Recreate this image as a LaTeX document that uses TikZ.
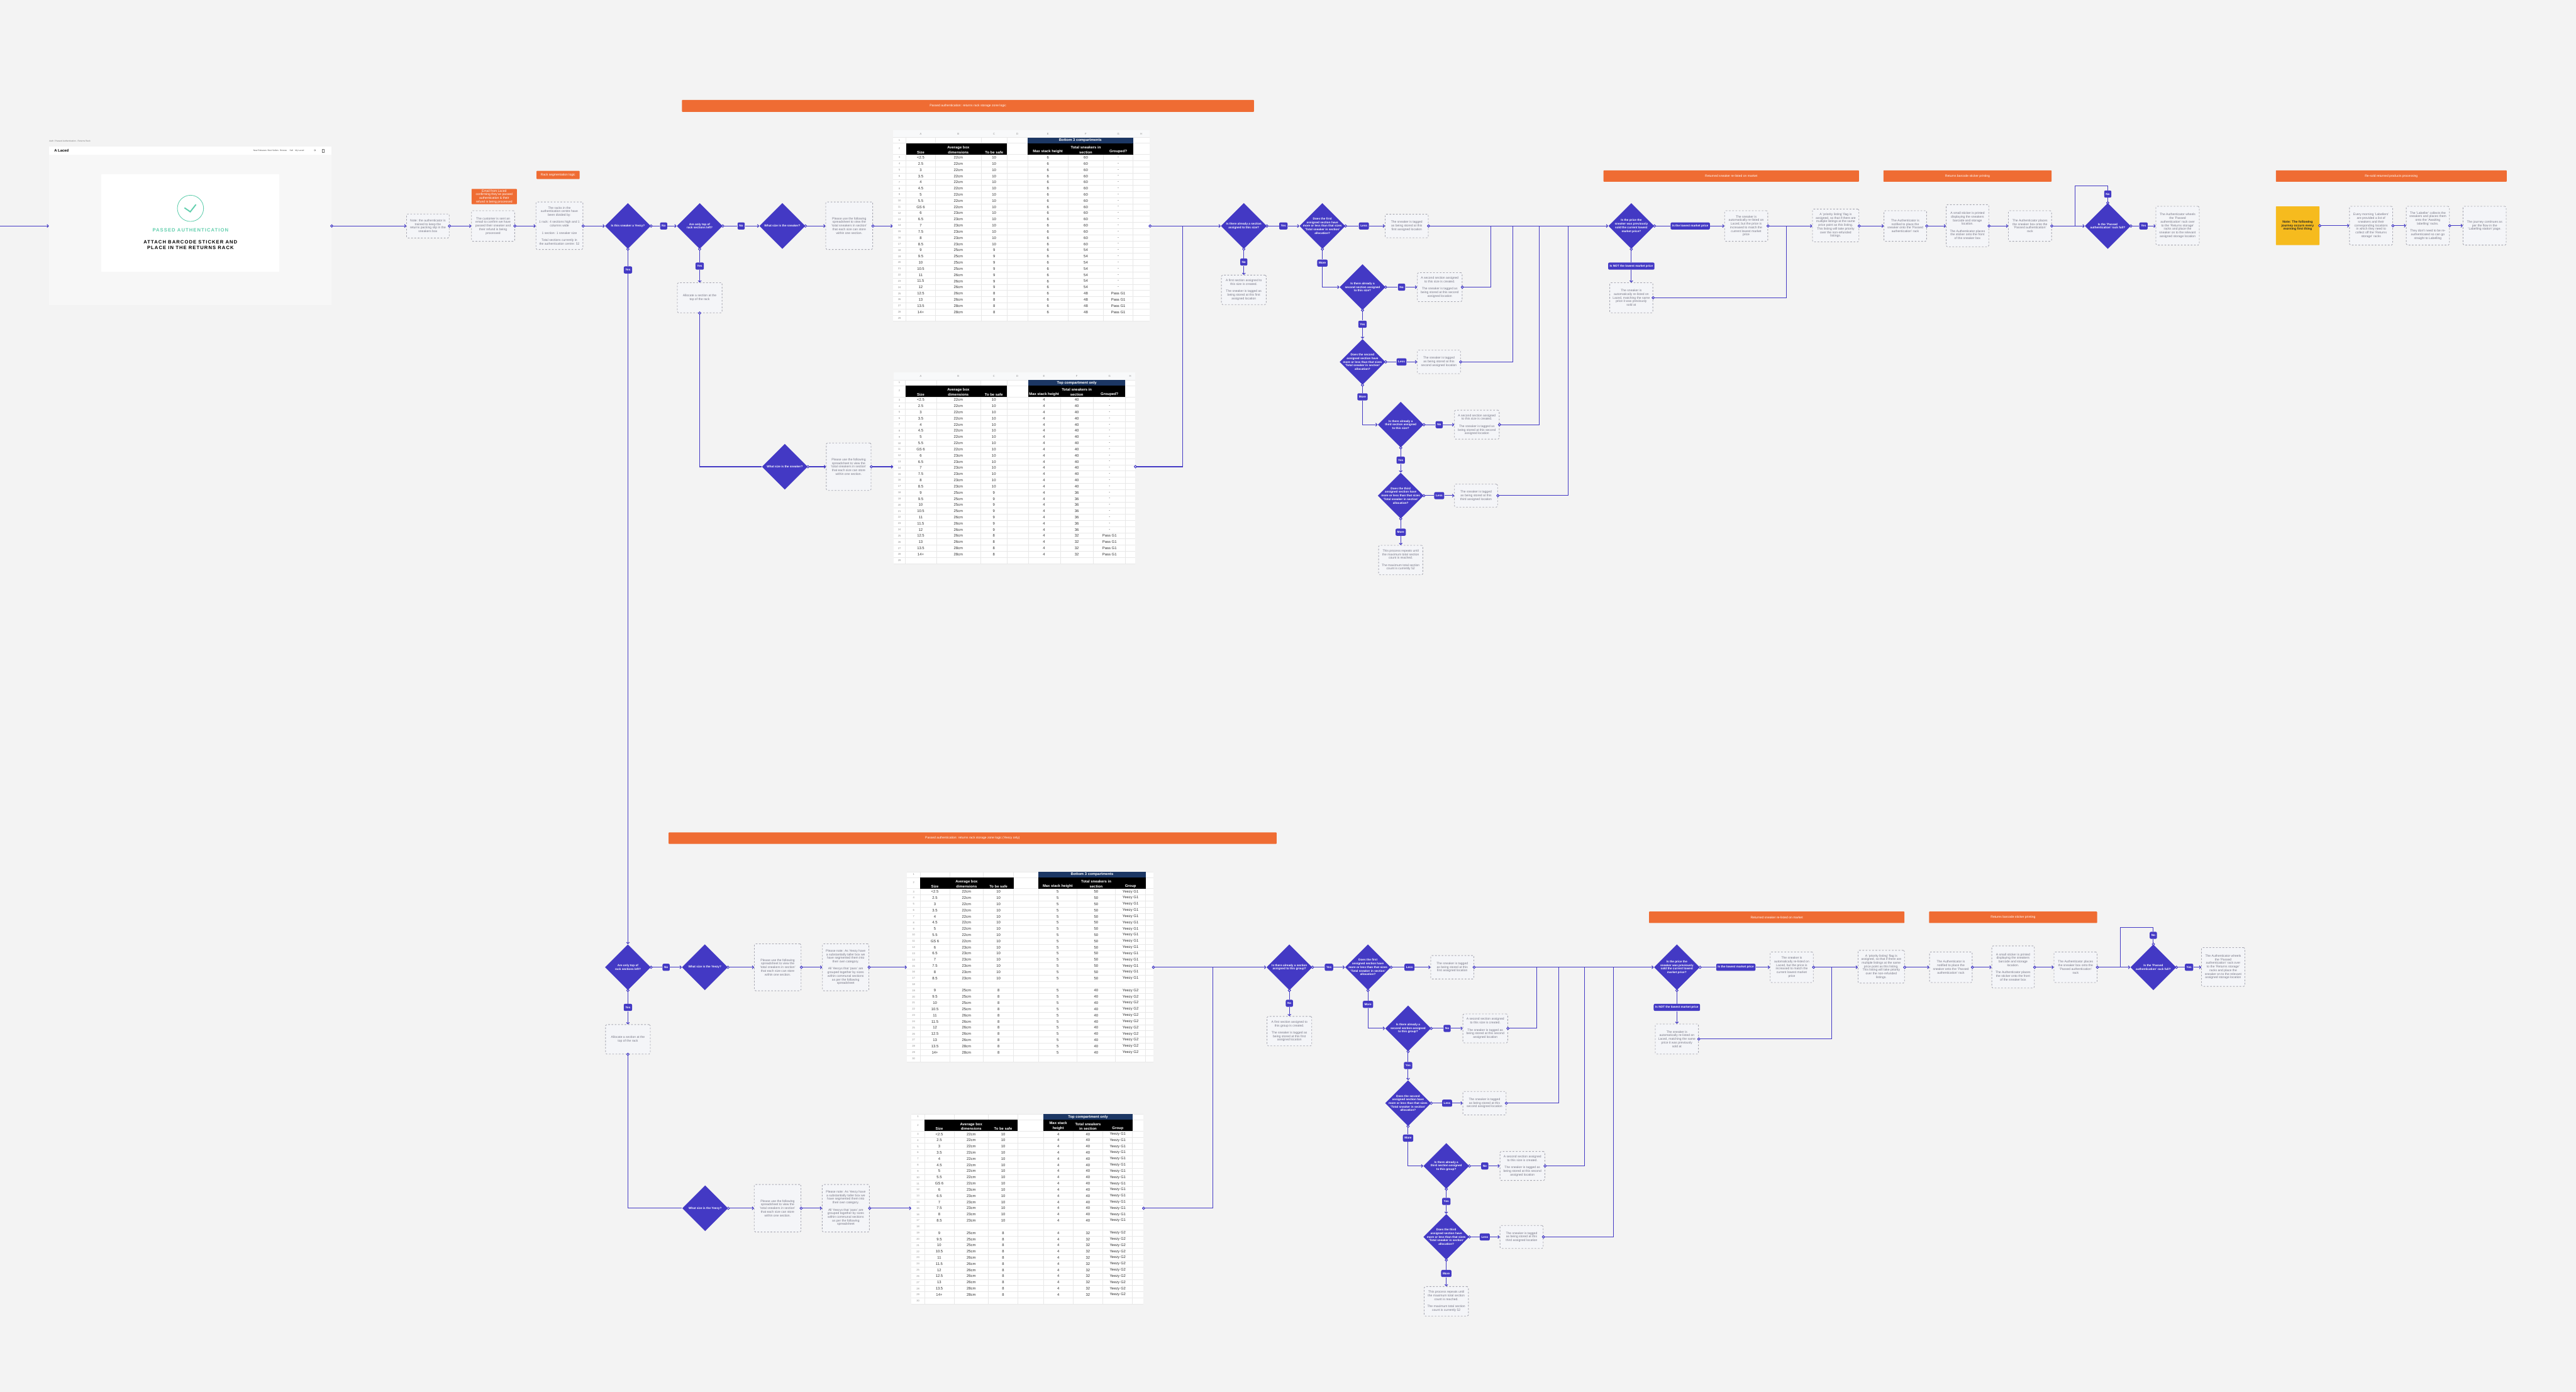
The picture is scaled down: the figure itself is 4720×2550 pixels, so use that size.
\documentclass[tikz,border=0pt]{standalone}
\usepackage{fontspec}
\setmainfont{Liberation Sans}
\newfontfamily\screenfont[LetterSpace=14]{Liberation Sans}
\usetikzlibrary{arrows.meta,shapes.geometric}

\definecolor{pagebg}{HTML}{F3F3F3}
\definecolor{flowblue}{HTML}{4339C4}
\definecolor{notefill}{HTML}{F4F5F8}
\definecolor{notedash}{HTML}{A6A6B0}
\definecolor{notetext}{HTML}{787887}
\definecolor{bandorange}{HTML}{EF6C33}
\definecolor{noteyellow}{HTML}{F6BB1E}
\definecolor{sheetgrid}{HTML}{E8E8E8}
\definecolor{sheetband}{HTML}{F8F9FA}
\definecolor{sheetnavy}{HTML}{1C3764}
\definecolor{passgreen}{HTML}{62CFAE}

\newcommand{\boxfont}{\fontsize{2.9}{3.3}\selectfont}
\newcommand{\askfont}{\fontsize{2.7}{3.3}\selectfont\bfseries}
\newcommand{\cellfont}{\fontsize{3.4}{4.35}\selectfont}
\newcommand{\gap}{\\[3.3pt]}

\tikzset{
  >={Straight Barb[length=1.3pt,width=2.8pt]},
  sizebox/.style 2 args={minimum width=#1*0.5pt,minimum height=#2*0.5pt},
  flowline/.style={draw=flowblue,line width=0.6pt},
  outlink/.style={flowline,{Circle[length=2.8pt,fill=white]}->,shorten <=-1.4pt},
  outlead/.style={flowline,{Circle[length=2.8pt,fill=white]}-,shorten <=-1.4pt},
  feed/.style={flowline,->},
  plainlink/.style={flowline},
  notebox/.style={draw=notedash,fill=notefill,dash pattern=on 1.5pt off 1.5pt,line width=0.5pt,
    rounded corners=1pt,inner sep=0pt,align=center,text=notetext,font=\boxfont},
  decide/.style={diamond,fill=flowblue,sizebox={84}{84},inner sep=0pt},
  asks/.style={text=white,font=\askfont,align=center,inner sep=0pt},
  badge/.style={fill=flowblue,rounded corners=1.2pt,text=white,font=\askfont,
    minimum height=6.5pt,inner xsep=1.5pt,inner ysep=0pt},
  band/.style={fill=bandorange,rounded corners=0.5pt,text=white,font=\boxfont,align=center,inner sep=0pt},
  sheet/.style={fill=white,inner sep=0pt},
  cell/.style={inner sep=0pt,font=\cellfont,text=black!80},
  headcell/.style={inner sep=0.6pt,anchor=south,font=\cellfont\bfseries,text=white,align=center},
  rowno/.style={inner sep=0pt,font=\fontsize{2.4}{3}\selectfont,text=black!45},
  sheetline/.style={draw=sheetgrid,line width=0.4pt},
  navtext/.style={inner sep=0pt,font=\fontsize{1.9}{2.4}\selectfont,text=black!70},
}

\def\plainrows{<2.5/22cm/10,2.5/22cm/10,3/22cm/10,3.5/22cm/10,4/22cm/10,4.5/22cm/10,5/22cm/10,5.5/22cm/10,GS 6/22cm/10,6/23cm/10,6.5/23cm/10,7/23cm/10,7.5/23cm/10,8/23cm/10,8.5/23cm/10,9/25cm/9,9.5/25cm/9,10/25cm/9,10.5/25cm/9,11/26cm/9,11.5/26cm/9,12/26cm/9,12.5/26cm/8,13/26cm/8,13.5/28cm/8,14+/28cm/8}
\def\yeezyrows{<2.5/22cm/10,2.5/22cm/10,3/22cm/10,3.5/22cm/10,4/22cm/10,4.5/22cm/10,5/22cm/10,5.5/22cm/10,GS 6/22cm/10,6/23cm/10,6.5/23cm/10,7/23cm/10,7.5/23cm/10,8/23cm/10,8.5/23cm/10,x/x/0,9/25cm/8,9.5/25cm/8,10/25cm/8,10.5/25cm/8,11/26cm/8,11.5/26cm/8,12/26cm/8,12.5/26cm/8,13/26cm/8,13.5/28cm/8,14+/28cm/8}
\newcommand{\grpplain}{\ifnum\safe>8 -\else Pass G1\fi}
\newcommand{\grpyeezy}{\ifnum\safe>8 Yeezy G1\else Yeezy G2\fi}

\newcommand{\setedges}[4]{\def\blackA{#1}\def\blackB{#2}\def\blackC{#3}\def\blackD{#4}}
\newcommand{\setcols}[6]{\def\colA{#1}\def\colB{#2}\def\colC{#3}\def\colE{#4}\def\colF{#5}\def\colG{#6}}

% grid: name, left, right, top of row 1, column edges, last row
\newcommand{\sheetframe}[6]{
  \pgfmathsetmacro\sheetbot{#4+31+(#6-2)*11.32}
  \foreach \gx in {#5} \draw[sheetline] (\gx,#4) -- (\gx,\sheetbot);
  \draw[sheetline] (#2,#4) -- (#3,#4);
  \draw[sheetline] (#2,#4+10.5) -- (#3,#4+10.5);
  \draw[sheetline] (#2,#4+31) -- (#3,#4+31);
  \foreach \rw in {3,...,#6} {
    \draw[sheetline] (#2,#4+31+\rw*11.32-2*11.32) -- (#3,#4+31+\rw*11.32-2*11.32);
    \node[rowno] (#1row\rw) at ({(#2+\blackA)/2},#4+31+\rw*11.32-2.5*11.32) {\rw};
  }
  \node[rowno] (#1row1) at ({(#2+\blackA)/2},#4+5) {1};
  \node[rowno] (#1row2) at ({(#2+\blackA)/2},#4+20) {2};
}
% name, top of row 1, title, the three right headers
\newcommand{\sheethead}[6]{
  \fill[black] (\blackA,#2+10.5) rectangle (\blackB,#2+31);
  \fill[black] (\blackC,#2+10.5) rectangle (\blackD,#2+31);
  \fill[sheetnavy] (\blackC,#2) rectangle (\blackD,#2+10.5);
  \node[inner sep=0pt,font=\cellfont\bfseries,text=white] (#1title) at ({(\blackC+\blackD)/2},#2+5.2) {#3};
  \node[headcell] (#1hsize) at (\colA,#2+31) {Size};
  \node[headcell] (#1hbox) at (\colB,#2+31) {Average box\\dimensions};
  \node[headcell] (#1hsafe) at (\colC,#2+31) {To be safe};
  \node[headcell] (#1hmax) at (\colE,#2+31) {#4};
  \node[headcell] (#1htotal) at (\colF,#2+31) {#5};
  \node[headcell] (#1hgroup) at (\colG,#2+31) {#6};
}
% name, top of row 1, rows, stack height, group text
\newcommand{\sheetcells}[5]{
  \foreach \sz/\cm/\safe [count=\rw from 3] in #3 {
    \ifnum\safe>0
      \pgfmathtruncatemacro\tot{\safe*#4}
      \pgfmathsetmacro\rowy{#2+31+(\rw-2.5)*11.32}
      \node[cell] (#1a\rw) at (\colA,\rowy) {\sz};
      \node[cell] (#1b\rw) at (\colB,\rowy) {\cm};
      \node[cell] (#1c\rw) at (\colC,\rowy) {\safe};
      \node[cell] (#1e\rw) at (\colE,\rowy) {#4};
      \node[cell] (#1f\rw) at (\colF,\rowy) {\tot};
      \node[cell] (#1g\rw) at (\colG,\rowy) {#5};
    \fi
  }
}

% the run from the section question to the end of the row; #1 name suffix, #2 size or group
\newcommand{\storeflow}[2]{
  \node[band,sizebox={468}{21}] (headrelist#1) at (3172,322.5) {Returned sneaker re-listed on market};
  \node[band,sizebox={308}{21}] (headbarcode#1) at (3605,322.5) {Returns barcode sticker printing};

  \node[decide,label={[asks]center:{Is there already a section\\assigned to this #2?}}] (qsection#1) at (2279,414) {};
  \node[decide,label={[asks]center:{Does the first\\assigned section have\\more or less than that sizes\\'Total sneaker in section'\\allocation?}}] (qfirst#1) at (2423,414) {};
  \node[notebox,sizebox={79}{43}] (tagfirst#1) at (2577.5,414) {The sneaker is tagged\\as being stored at this\\first assigned location};
  \node[notebox,sizebox={82}{54}] (newfirst#1) at (2279,531) {A first section assigned to\\this #2 is created.\gap The sneaker is tagged as\\being stored at this first\\assigned location};
  \node[badge] (yes1#1) at (2351.5,414) {Yes};
  \node[badge] (less1#1) at (2499,414) {Less};
  \node[badge] (no1#1) at (2279,480) {No};
  \node[badge] (more1#1) at (2423,482) {More};

  \node[decide,label={[asks]center:{Is there already a\\second section assigned\\to this #2?}}] (qsecond#1) at (2496.5,526) {};
  \node[notebox,sizebox={82}{53}] (newsecond#1) at (2638,526) {A second section assigned\\to this size is created.\gap The sneaker is tagged as\\being stored at this second\\assigned location};
  \node[badge] (no2#1) at (2568,526) {No};
  \node[badge] (yes2#1) at (2496.5,594) {Yes};
  \node[decide,label={[asks]center:{Does the second\\assigned section have\\more or less than that sizes\\'Total sneaker in section'\\allocation?}}] (qsecless#1) at (2496.5,663) {};
  \node[notebox,sizebox={79}{43}] (tagsecond#1) at (2636.5,663) {The sneaker is tagged\\as being stored at this\\second assigned location};
  \node[badge] (less2#1) at (2568,663) {Less};
  \node[badge] (more2#1) at (2496.5,727) {More};

  \node[decide,label={[asks]center:{Is there already a\\third section assigned\\to this #2?}}] (qthird#1) at (2566.5,778) {};
  \node[notebox,sizebox={82}{53}] (newthird#1) at (2706,778) {A second section assigned\\to this size is created.\gap The sneaker is tagged as\\being stored at this second\\assigned location};
  \node[badge] (no3#1) at (2637,778) {No};
  \node[badge] (yes3#1) at (2566.5,843) {Yes};
  \node[decide,label={[asks]center:{Does the third\\assigned section have\\more or less than that sizes\\'Total sneaker in section'\\allocation?}}] (qthirdless#1) at (2566.5,908) {};
  \node[notebox,sizebox={79}{42}] (tagthird#1) at (2704.5,908) {The sneaker is tagged\\as being stored at this\\third assigned location};
  \node[badge] (less3#1) at (2637,908) {Less};
  \node[badge] (more3#1) at (2566.5,975) {More};
  \node[notebox,sizebox={81}{54}] (repeat#1) at (2566.5,1026) {This process repeats until\\the maximum total section\\count is reached.\gap The maximum total section\\count is currently 52};

  \coordinate (joinA#1) at (2732,414);
  \coordinate (joinB#1) at (2772,414);
  \coordinate (joinC#1) at (2820,414);
  \coordinate (joinD#1) at (2873,414);
  \coordinate (joinlist#1) at (3273,414);
  \coordinate (joinfull#1) at (3802,414);
  \coordinate (loopfull#1) at (3802,341);

  \node[decide,label={[asks]center:{Is the price the\\sneaker was previously\\sold the current lowest\\market price?}}] (qprice#1) at (2989,414) {};
  \node[badge] (lowest#1) at (3097,414) {Is the lowest market price};
  \node[badge] (notlowest#1) at (2989,487.5) {Is NOT the lowest market price};
  \node[notebox,sizebox={79}{56}] (raised#1) at (3199.5,414) {The sneaker is\\automatically re-listed on\\Laced, but the price is\\increased to match the\\current lowest market\\price};
  \node[notebox,sizebox={79}{55}] (matched#1) at (2989,545.5) {The sneaker is\\automatically re-listed on\\Laced, matching the same\\price it was previously\\sold at};
  \node[notebox,sizebox={85}{60}] (priority#1) at (3363.5,413) {A 'priority listing' flag is\\assigned, so that if there are\\multiple listings at the same\\price point as this listing.\\This listing will take priority\\over the non-refunded\\listings.};
  \node[notebox,sizebox={78}{56}] (notified#1) at (3491,414) {The Authenticator is\\notified to place the\\sneaker onto the 'Passed\\authentication' rack};
  \node[notebox,sizebox={78}{77}] (sticker#1) at (3605,413.5) {A small sticker is printed\\displaying the sneakers\\barcode and storage\\location.\gap The Authenticator places\\the sticker onto the front\\of the sneaker box};
  \node[notebox,sizebox={79}{56}] (placed#1) at (3719.5,414) {The Authenticator places\\the sneaker box onto the\\'Passed authentication'\\rack};
  \node[decide,label={[asks]center:{Is the 'Passed\\authentication' rack full?}}] (qfull#1) at (3862,414) {};
  \node[badge] (nofull#1) at (3862,355.5) {No};
  \node[badge] (yesfull#1) at (3927.5,414) {Yes};
  \node[notebox,sizebox={79.5}{71}] (wheels#1) at (3990,413.5) {The Authenticator wheels\\the 'Passed\\authentication' rack over\\to the 'Returns storage'\\racks and place the\\sneaker on to the relevant\\assigned storage location};

  \draw[outlead] (qsection#1.east) -- (yes1#1.west);
  \draw[feed] (yes1#1.east) -- (qfirst#1.west);
  \draw[outlead] (qfirst#1.east) -- (less1#1.west);
  \draw[feed] (less1#1.east) -- (tagfirst#1.west);
  \draw[outlead] (qsection#1.south) -- (no1#1.north);
  \draw[feed] (no1#1.south) -- (newfirst#1.north);
  \draw[outlead] (qfirst#1.south) -- (more1#1.north);
  \draw[feed] (more1#1.south) |- (qsecond#1.west);
  \draw[outlead] (qsecond#1.east) -- (no2#1.west);
  \draw[feed] (no2#1.east) -- (newsecond#1.west);
  \draw[outlead] (qsecond#1.south) -- (yes2#1.north);
  \draw[feed] (yes2#1.south) -- (qsecless#1.north);
  \draw[outlead] (qsecless#1.east) -- (less2#1.west);
  \draw[feed] (less2#1.east) -- (tagsecond#1.west);
  \draw[outlead] (qsecless#1.south) -- (more2#1.north);
  \draw[feed] (more2#1.south) |- (qthird#1.west);
  \draw[outlead] (qthird#1.east) -- (no3#1.west);
  \draw[feed] (no3#1.east) -- (newthird#1.west);
  \draw[outlead] (qthird#1.south) -- (yes3#1.north);
  \draw[feed] (yes3#1.south) -- (qthirdless#1.north);
  \draw[outlead] (qthirdless#1.east) -- (less3#1.west);
  \draw[feed] (less3#1.east) -- (tagthird#1.west);
  \draw[outlead] (qthirdless#1.south) -- (more3#1.north);
  \draw[feed] (more3#1.south) -- (repeat#1.north);
  \draw[outlead] (newsecond#1.east) -| (joinA#1);
  \draw[outlead] (tagsecond#1.east) -| (joinB#1);
  \draw[outlead] (newthird#1.east) -| (joinC#1);
  \draw[outlead] (tagthird#1.east) -| (joinD#1);
  \draw[outlink] (tagfirst#1.east) -- (qprice#1.west);
  \draw[outlead] (qprice#1.east) -- (lowest#1.west);
  \draw[feed] (lowest#1.east) -- (raised#1.west);
  \draw[outlead] (qprice#1.south) -- (notlowest#1.north);
  \draw[feed] (notlowest#1.south) -- (matched#1.north);
  \draw[outlink] (raised#1.east) -- (priority#1.west |- raised#1.east);
  \draw[outlead] (matched#1.east) -| (joinlist#1);
  \draw[outlink] (priority#1.east |- raised#1.east) -- (notified#1.west);
  \draw[outlink] (notified#1.east) -- (sticker#1.west |- notified#1.east);
  \draw[outlink] (sticker#1.east |- notified#1.east) -- (placed#1.west);
  \draw[outlink] (placed#1.east) -- (qfull#1.west);
  \draw[outlead] (qfull#1.north) -- (nofull#1.south);
  \draw[plainlink] (nofull#1.north) |- (loopfull#1) -- (joinfull#1);
  \draw[outlead] (qfull#1.east) -- (yesfull#1.west);
  \draw[feed] (yesfull#1.east) -- (wheels#1.west |- yesfull#1.east);
}

\begin{document}
\begin{tikzpicture}[x=0.5pt,y=-0.5pt]
  \fill[pagebg] (0,0) rectangle (4720,2550);
  \useasboundingbox (0,0) rectangle (4720,2550);

  % screen
  \node[anchor=west,inner sep=0pt,font=\fontsize{1.9}{2.4}\selectfont,text=black!55] (screenname) at (90,259) {Auth / Passed Authentication - Returns Rack};
  \node[fill=black!3,inner sep=0pt,sizebox={517.5}{291}] (screen) at (348.75,413.5) {};
  \fill[white] (90,268) rectangle (607.5,283);
  \fill[white] (186,319) rectangle (512,498);
  \node[anchor=west,inner sep=0pt,font=\fontsize{3.4}{4}\selectfont\bfseries] (logo) at (99,275.7) {A Laced};
  \node[navtext] (navnew) at (476.5,275.7) {New Releases};
  \node[navtext] (navbest) at (500.5,275.7) {Best Sellers};
  \node[navtext] (navbrowse) at (519.5,275.7) {Browse};
  \node[navtext] (navsell) at (534,275.7) {Sell};
  \node[navtext] (navmine) at (549,275.7) {My Laced};
  \draw[black!55,line width=0.2pt] (577,275.2) circle (1.5);
  \draw[black!55,line width=0.2pt] (590.5,273) rectangle (593.5,279);
  \draw[passgreen,line width=0.5pt] (349,381.7) circle (24);
  \draw[passgreen,line width=1.1pt] (338,380.7) -- (348.6,388) -- (359,374.7);
  \node[inner sep=0pt,text=passgreen,font=\fontsize{4.4}{5}\selectfont\screenfont\bfseries] (passed) at (349,422) {PASSED AUTHENTICATION};
  \node[inner sep=0pt,align=center,font=\fontsize{4.4}{5.5}\selectfont\screenfont\bfseries] (attach) at (349,448.5) {ATTACH BARCODE STICKER AND\\PLACE IN THE RETURNS RACK};

  \coordinate (entry) at (0,414);
  \draw[feed] (entry) -- (screen.west |- entry);

  \node[notebox,sizebox={78}{44}] (tonote) at (784,414) {Note: the authenticator is\\trained to keep the\\returns packing slip in the\\sneakers box};
  \node[notebox,sizebox={79}{56}] (mailed) at (903.5,414) {The customer is sent an\\email to confirm we have\\passed their sneaker and\\their refund is being\\processed};
  \node[notebox,sizebox={86}{87}] (racks) at (1025,413.5) {The racks in the\\authentication centre have\\been divided by:\gap 1 rack: 4 sections high and 1\\columns wide\gap 1 section: 1 sneaker size\gap Total sections currently in\\the authentication centre: 52};
  \node[band,sizebox={83}{28}] (mailtag) at (905.5,360) {Email from Laced\\confirming they've passed\\authentication \& their\\refund is being processed};
  \node[band,sizebox={79}{15}] (racktag) at (1022.5,320.5) {Rack segmentation logic};

  \node[band,sizebox={1048}{22}] (headlogic) at (1773.5,194) {Passed authentication: returns rack storage zone logic};
  \node[decide,label={[asks]center:{Is this sneaker a Yeezy?}}] (qyeezy) at (1150.5,414) {};
  \node[badge] (yeezyno) at (1216,414) {No};
  \node[badge] (yeezyyes) at (1150.5,494.5) {Yes};
  \node[decide,label={[asks]center:{Are only top of\\rack sections left?}}] (qtop) at (1282,414) {};
  \node[badge] (topno) at (1358,414) {No};
  \node[badge] (topyes) at (1282,487.5) {Yes};
  \node[notebox,sizebox={82}{55}] (alloc) at (1282,545.5) {Allocate a section at the\\top of the rack};
  \node[decide,label={[asks]center:{What size is the sneaker?}}] (qsize) at (1433.5,414) {};
  \node[notebox,sizebox={86}{87}] (please) at (1556,413.5) {Please use the following\\spreadsheet to view the\\'total sneakers in section'\\that each size can store\\within one section.};
  \node[decide,label={[asks]center:{What size is the sneaker?}}] (qsizetop) at (1438,855) {};
  \node[notebox,sizebox={82}{87}] (pleasetop) at (1555,855) {Please use the following\\spreadsheet to view the\\'total sneakers in section'\\that each size can store\\within one section.};

  % sheets
  \node[sheet,sizebox={471}{351}] (sheetA) at (1871.5,413.5) {};
  \fill[sheetband] (1636,238) rectangle (2107,252);
  \setedges{1660}{1845}{1883}{2076}
  \setcols{1687}{1756}{1821.5}{1920}{1989.5}{2049}
  \sheetframe{sheetA}{1636}{2107}{252}{1660,1714,1798,1845,1883,1957,2022,2076}{29}
  \foreach \letter/\gx in {A/1687,B/1756,C/1821.5,D/1864,E/1920,F/1989.5,G/2049,H/2091}
    \node[rowno] (sheetAcol\letter) at (\gx,245) {\letter};
  \sheethead{sheetA}{252}{Bottom 3 compartments}{Max stack height}{Total sneakers in\\section}{Grouped?}
  \sheetcells{sheetA}{252}{\plainrows}{6}{\grpplain}

  \node[sheet,sizebox={443}{351}] (sheetB) at (1858.5,857.5) {};
  \fill[sheetband] (1637,682) rectangle (2080,696);
  \setedges{1659}{1845}{1884}{2062}
  \setcols{1687}{1756}{1821}{1913}{1973}{2033}
  \sheetframe{sheetB}{1637}{2080}{696}{1659,1716,1797,1845,1884,1943,2003,2062}{29}
  \foreach \letter/\gx in {A/1687,B/1756,C/1821,D/1864,E/1913,F/1973,G/2033,H/2071}
    \node[rowno] (sheetBcol\letter) at (\gx,689) {\letter};
  \sheethead{sheetB}{696}{Top compartment only}{Max stack height}{Total sneakers in\\section}{Grouped?}
  \sheetcells{sheetB}{696}{\plainrows}{4}{\grpplain}

  \draw[outlead] (qyeezy.east) -- (yeezyno.west);
  \draw[feed] (yeezyno.east) -- (qtop.west);
  \draw[outlead] (qtop.east) -- (topno.west);
  \draw[feed] (topno.east) -- (qsize.west);
  \draw[outlink] (qsize.east) -- (please.west |- qsize.east);
  \draw[outlink] (please.east |- qsize.east) -- (sheetA.west |- qsize.east);
  \draw[outlead] (qtop.south) -- (topyes.north);
  \draw[feed] (topyes.south) -- (alloc.north);
  \draw[outlead] (alloc.south) |- (qsizetop.west);
  \draw[outlink] (qsizetop.east) -- (pleasetop.west);
  \draw[outlink] (pleasetop.east) -- (sheetB.west |- qsizetop.east);
  \draw[outlink] (tonote.east) -- (mailed.west);
  \draw[outlink] (mailed.east) -- (racks.west |- mailed.east);
  \draw[outlink] (screen.east |- entry) -- (tonote.west);
  \draw[outlink] (racks.east |- mailed.east) -- (qyeezy.west);

  \storeflow{}{size}
  \coordinate (mergetop) at (2167,414);
  \draw[outlink] (sheetA.east |- qsize.east) -- (qsection.west);
  \draw[outlead] (sheetB.east |- qsizetop.east) -| (mergetop);

  % yeezy
  \node[band,sizebox={1114}{21}] (headyeezy) at (1782,1535.5) {Passed authentication: returns rack storage zone logic (Yeezy only)};
  \node[decide,label={[asks]center:{Are only top of\\rack sections left?}}] (qtopY) at (1150.5,1772) {};
  \node[badge] (topnoY) at (1220.5,1772) {No};
  \node[badge] (topyesY) at (1150.5,1845.5) {Yes};
  \node[notebox,sizebox={82}{54}] (allocY) at (1150.5,1904) {Allocate a section at the\\top of the rack};
  \node[decide,label={[asks]center:{What size is the Yeezy?}}] (qsizeY) at (1291.5,1772) {};
  \node[notebox,sizebox={85.5}{86}] (pleaseY) at (1425,1772) {Please use the following\\spreadsheet to view the\\'total sneakers in section'\\that each size can store\\within one section.};
  \node[notebox,sizebox={85}{86}] (noteY) at (1549.5,1772) {Please note: As Yeezy have\\a substantially taller box we\\have segmented them into\\their own category.\gap All Yeezys that 'pass' are\\grouped together by sizes\\within communal sections\\as per the following\\spreadsheet};
  \node[decide,label={[asks]center:{What size is the Yeezy?}}] (qsizeZ) at (1292,2213.5) {};
  \node[notebox,sizebox={85.5}{87}] (pleaseZ) at (1424.75,2213.5) {Please use the following\\spreadsheet to view the\\'total sneakers in section'\\that each size can store\\within one section.};
  \node[notebox,sizebox={86.5}{87}] (noteZ) at (1549.75,2213.5) {Please note: As Yeezy have\\a substantially taller box we\\have segmented them into\\their own category.\gap All Yeezys that 'pass' are\\grouped together by sizes\\within communal sections\\as per the following\\spreadsheet};

  \node[sheet,sizebox={451}{348}] (sheetC) at (1887.5,1771) {};
  \setedges{1686}{1857}{1903}{2099}
  \setcols{1713}{1771}{1829.5}{1938}{2008.5}{2071.5}
  \sheetframe{sheetC}{1662}{2113}{1597}{1686,1740,1802,1857,1903,1973,2044,2099}{30}
  \sheethead{sheetC}{1597}{Bottom 3 compartments}{Max stack height}{Total sneakers in\\section}{Group}
  \sheetcells{sheetC}{1597}{\yeezyrows}{5}{\grpyeezy}

  \node[sheet,sizebox={425}{348}] (sheetD) at (1882.5,2215) {};
  \setedges{1694}{1865}{1912}{2075}
  \setcols{1721}{1779.5}{1838}{1939}{1993.5}{2048}
  \sheetframe{sheetD}{1670}{2095}{2041}{1694,1748,1811,1865,1912,1966,2021,2075}{30}
  \sheethead{sheetD}{2041}{Top compartment only}{Max stack\\height}{Total sneakers\\in section}{Group}
  \sheetcells{sheetD}{2041}{\yeezyrows}{4}{\grpyeezy}

  \draw[outlead] (qyeezy.south) -- (yeezyyes.north);
  \draw[feed] (yeezyyes.south) -- (qtopY.north);
  \draw[outlead] (qtopY.east) -- (topnoY.west);
  \draw[feed] (topnoY.east) -- (qsizeY.west);
  \draw[outlink] (qsizeY.east) -- (pleaseY.west);
  \draw[outlink] (pleaseY.east) -- (noteY.west);
  \draw[outlink] (noteY.east) -- (sheetC.west |- noteY.east);
  \draw[outlead] (qtopY.south) -- (topyesY.north);
  \draw[feed] (topyesY.south) -- (allocY.north);
  \draw[outlead] (allocY.south) |- (qsizeZ.west);
  \draw[outlink] (qsizeZ.east) -- (pleaseZ.west);
  \draw[outlink] (pleaseZ.east) -- (noteZ.west);
  \draw[outlink] (noteZ.east) -- (sheetD.west |- noteZ.east);

  \begin{scope}[shift={(83.5,1358)}]
    \storeflow{Y}{group}
    \coordinate (mergeY) at (2138.5,414);
  \end{scope}
  \draw[outlink] (sheetC.east |- noteY.east) -- (qsectionY.west);
  \draw[outlead] (sheetD.east |- noteZ.east) -| (mergeY);

  % re-sold
  \node[band,sizebox={423}{21}] (headresold) at (4381.5,322.5) {Re-sold returned products processing};
  \node[fill=noteyellow,rounded corners=0.5pt,inner sep=0pt,align=center,font=\fontsize{2.95}{3.3}\selectfont\bfseries,text=black!85,sizebox={80}{71}] (morning) at (4210,413.5) {Note: The following\\journey occurs every\\morning first thing};
  \node[notebox,sizebox={79}{71}] (labellers) at (4344.5,413.5) {Every morning 'Labellers'\\are provided a list of\\sneakers and their\\corresponding locations\\in which they need to\\collect off the 'Returns\\storage' racks};
  \node[notebox,sizebox={79}{71}] (awaiting) at (4448.5,413.5) {The 'Labeller' collects the\\sneakers and places them\\onto the 'Awaiting\\labelling' racks.\gap They don't need to be re-\\authenticated so can go\\straight to Labelling};
  \node[notebox,sizebox={79}{71}] (continues) at (4552.5,413.5) {The journey continues as\\per the flow in the\\'Labelling station' page.};
  \draw[outlink] (morning.east) -- (labellers.west);
  \draw[outlink] (labellers.east) -- (awaiting.west);
  \draw[outlink] (awaiting.east) -- (continues.west);
\end{tikzpicture}
\end{document}
